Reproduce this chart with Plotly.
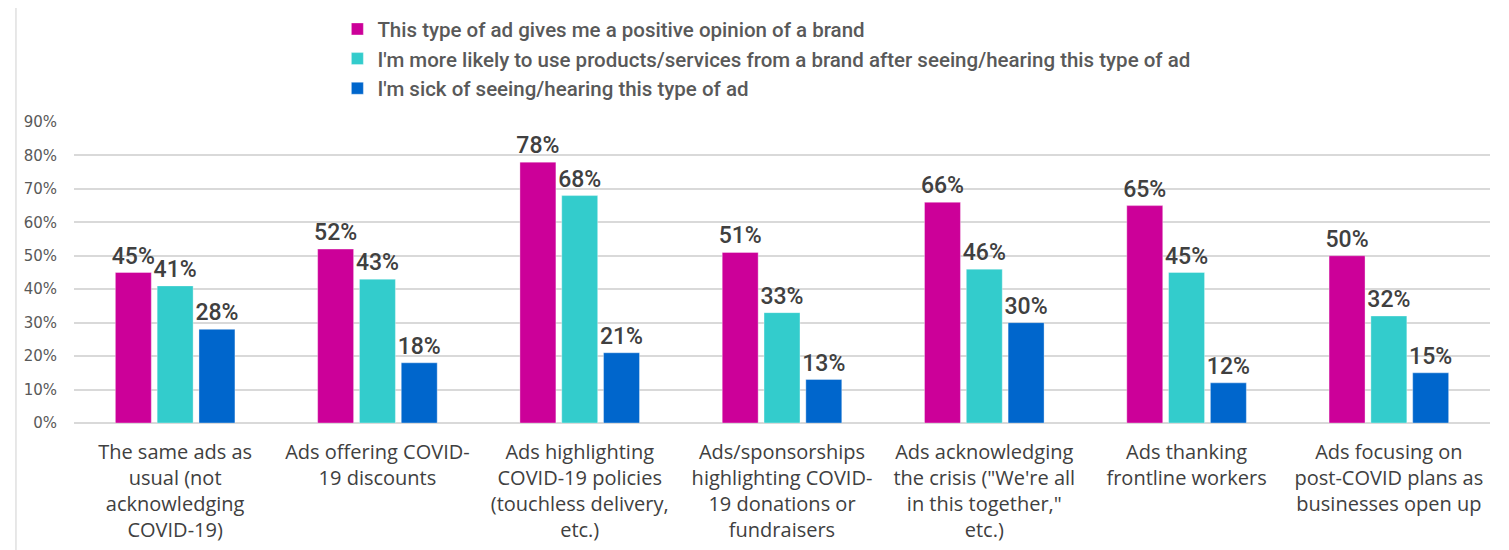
import plotly.graph_objects as go

categories = [
    "The same ads as<br>usual (not<br>acknowledging<br>COVID-19)",
    "Ads offering COVID-<br>19 discounts",
    "Ads highlighting<br>COVID-19 policies<br>(touchless delivery,<br>etc.)",
    "Ads/sponsorships<br>highlighting COVID-<br>19 donations or<br>fundraisers",
    "Ads acknowledging<br>the crisis (\"We're all<br>in this together,\"<br>etc.)",
    "Ads thanking<br>frontline workers",
    "Ads focusing on<br>post-COVID plans as<br>businesses open up",
]
series_names = [
    "This type of ad gives me a positive opinion of a brand",
    "I'm more likely to use products/services from a brand after seeing/hearing this type of ad",
    "I'm sick of seeing/hearing this type of ad",
]
positive = [45, 52, 78, 51, 66, 65, 50]
more_likely = [41, 43, 68, 33, 46, 45, 32]
sick_of = [28, 18, 21, 13, 30, 12, 15]
colors = ["#CC0099", "#33CCCC", "#0066CC"]
tick_vals = [0, 10, 20, 30, 40, 50, 60, 70, 80, 90]
tick_text = ["0%", "10%", "20%", "30%", "40%", "50%", "60%", "70%", "80%", "90%"]

fig = go.Figure()
for i, (name, vals, col) in enumerate(zip(series_names, [positive, more_likely, sick_of], colors)):
    fig.add_trace(go.Bar(
        x=categories, y=vals, name=name, legendgroup=f"g{i}",
        marker=dict(color=col, line=dict(color="rgba(255,255,255,0.35)", width=1)),
        text=[f"{v}%" for v in vals], textposition="outside", constraintext="none",
        textfont=dict(family="Roboto", size=23, color="#404040", weight=500),
        cliponaxis=False,
    ))

fig.update_layout(
    width=1509, height=550,
    margin=dict(l=66, r=27, t=114, b=135, autoexpand=False),
    paper_bgcolor="white", plot_bgcolor="white",
    barmode="group", bargap=0.38, bargroupgap=0.14,
    font=dict(family="Open Sans", color="#595959"),
    showlegend=True,
    legend=dict(
        x=0.186, y=1.375, xanchor="left", yanchor="top",
        orientation="v", traceorder="normal", tracegroupgap=7,
        font=dict(family="Roboto", size=20.5, color="#595959", weight=500),
        itemwidth=30, bgcolor="rgba(0,0,0,0)",
    ),
    xaxis=dict(
        showgrid=False, showline=False, ticks="", automargin=False,
        tickfont=dict(family="Open Sans", size=20, color="#404040"),
        ticklabelstandoff=15,
    ),
    yaxis=dict(
        range=[0, 90], tickvals=tick_vals, ticktext=tick_text, automargin=False,
        showgrid=True, gridcolor="#D9D9D9", gridwidth=1.5,
        zeroline=True, zerolinecolor="#D9D9D9", zerolinewidth=1.5,
        showline=False, ticks="",
        tickfont=dict(family="DejaVu Sans", size=15, color="#595959"),
        ticklabelstandoff=16,
    ),
    shapes=[
        dict(type="line", xref="paper", yref="paper", x0=-0.0410, x1=-0.0410, y0=-0.5, y1=1.5,
             line=dict(color="#E0E0E0", width=1.5)),
        dict(type="line", xref="paper", yref="paper", x0=1.0106, x1=1.0106, y0=-0.5, y1=1.5,
             line=dict(color="#D9D9D9", width=1.5)),
    ],
)

fig.write_html("out.html")
